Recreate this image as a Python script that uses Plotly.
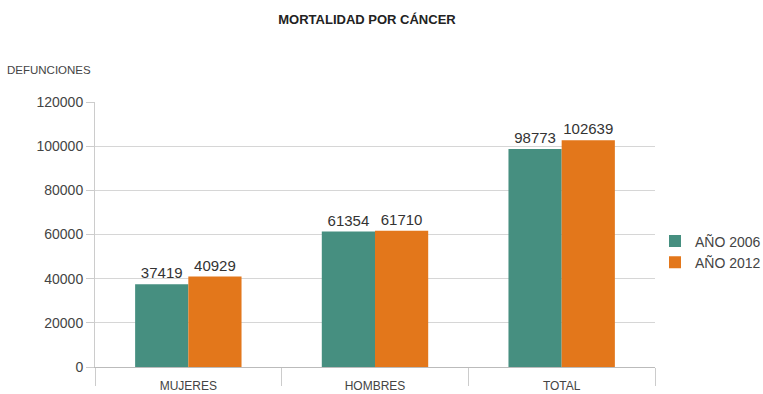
import plotly.graph_objects as go

categories = ["MUJERES", "HOMBRES", "TOTAL"]
series_names = ["AÑO 2006", "AÑO 2012"]
values_2006 = [37419, 61354, 98773]
values_2012 = [40929, 61710, 102639]
y_ticks = [0, 20000, 40000, 60000, 80000, 100000, 120000]

colors = ["#468F80", "#E3771B"]
font_family = "'Liberation Sans', Arial, sans-serif"

fig = go.Figure()
for name, vals, col in zip(series_names, [values_2006, values_2012], colors):
    fig.add_trace(go.Bar(
        x=categories, y=vals, name=name, marker=dict(color=col, line=dict(width=0)),
        text=[str(v) for v in vals], textposition="outside",
        textfont=dict(size=15, color="#333333", family=font_family),
        cliponaxis=False,
    ))

fig.update_layout(
    width=763, height=394,
    margin=dict(l=95, r=108, t=102, b=27, autoexpand=False),
    paper_bgcolor="white", plot_bgcolor="white",
    barmode="group", bargap=0.43, bargroupgap=0,
    font=dict(family=font_family, color="#444444", size=12),
    title=dict(text="<b>MORTALIDAD POR CÁNCER</b>", x=0.481, xanchor="center", y=0.95, yanchor="middle",
               font=dict(size=13, color="#222222", family=font_family)),
    legend=dict(x=1.0, xanchor="left", y=0.434, yanchor="middle", font=dict(size=14, color="#444444"),
                itemwidth=30, tracegroupgap=2, bgcolor="rgba(0,0,0,0)"),
    xaxis=dict(showline=True, linecolor="#bbbbbb", linewidth=1, tickson="boundaries",
               ticks="outside", ticklen=18, tickcolor="#cccccc", showgrid=False,
               ticklabelstandoff=8, automargin=False,
               tickfont=dict(size=12, color="#444444")),
    yaxis=dict(range=[0, 120000], tickvals=y_ticks, ticktext=[str(v) for v in y_ticks],
               showgrid=True, gridcolor="#d6d6d6", automargin=False,
               showline=True, linecolor="#cccccc", ticks="outside", ticklen=8, tickcolor="#cccccc",
               tickfont=dict(size=14, color="#444444"), zeroline=False),
    annotations=[dict(text="DEFUNCIONES", xref="paper", yref="paper", x=-0.16, y=1.12,
                      xanchor="left", yanchor="middle", showarrow=False,
                      font=dict(size=11.5, color="#444444"))],
)

fig.write_html("out.html")
